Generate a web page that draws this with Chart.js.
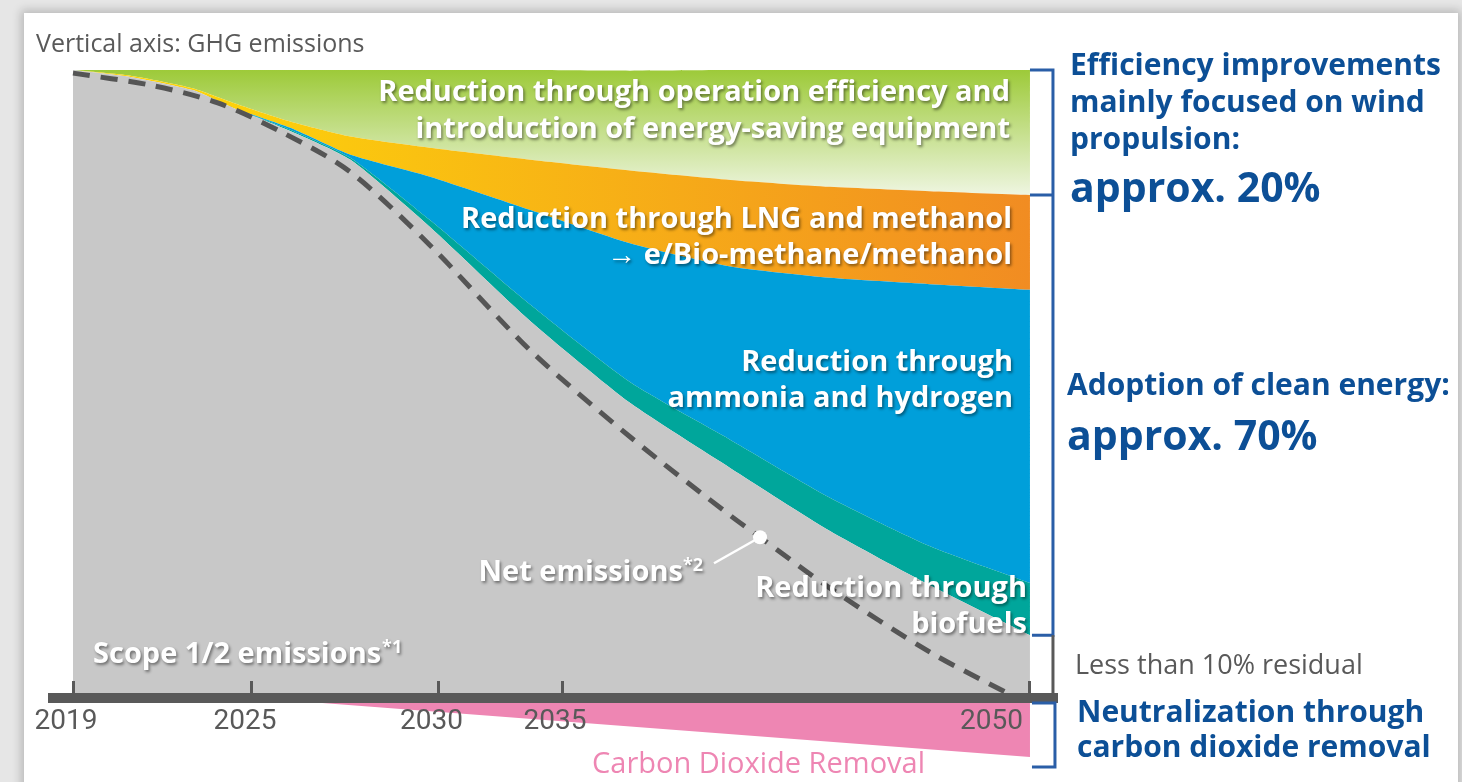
<!DOCTYPE html>
<html>
<head>
<meta charset="utf-8">
<title>GHG emissions pathway</title>
<script src="https://cdn.jsdelivr.net/npm/chart.js@4.4.1/dist/chart.umd.min.js"></script>
<style>
  html, body { margin: 0; padding: 0; }
  body { width: 1462px; height: 782px; overflow: hidden; background: #e6e6e6; position: relative; }
  .panel { position: absolute; left: 24px; top: 13px; width: 1434px; height: 820px; background: #fff; box-shadow: 0 0 9px 3px rgba(0, 0, 0, 0.2); }
  .wrap { position: absolute; left: 0; top: 0; width: 1462px; height: 782px; }
</style>
</head>
<body>
<div class="panel"></div>
<div class="wrap"><canvas id="chart"></canvas></div>
<script>
(function () {
  'use strict';

  // ---- Data: % of 2019 GHG emissions, x = position along the drawn 2019-2050 timeline ----
  var tickYears = ['2019', '2025', '2030', '2035', '2050'];
  var tickAt = [0, 18.7, 38.2, 51.1, 100];

  var timeline = [0, 6, 12.5, 16.7, 22.7, 29, 37.3, 47.8, 58.2, 68.7, 79.1, 89.5, 100];
  var scope12 = [100, 98.9, 96.8, 94.0, 90.3, 85.7, 75.0, 60.0, 47.0, 36.6, 26.6, 18.0, 10.0];
  var biofuels = [0, 0, 0, 0, 0.2, 0.3, 1.1, 2.6, 3.3, 4.5, 5.3, 6.2, 8.3];
  var ammoniaHydrogen = [0, 0, 0, 0, 0.3, 0.5, 6.9, 15.1, 22.1, 27.6, 35.0, 41.7, 46.7];
  var lngMethanol = [0, 0.2, 0.3, 0.8, 1.0, 2.9, 4.6, 8.0, 11.6, 13.8, 14.5, 14.8, 15.1];
  var efficiency = [0, 0.9, 2.9, 5.2, 8.2, 10.7, 12.4, 14.3, 15.9, 17.5, 18.6, 19.3, 19.9];

  var netTimeline = [0, 8.05, 15.05, 21.94, 28.94, 37.3, 47.75, 58.2, 68.65, 71.79, 79.1, 89.55, 97.6];
  var netEmissions = [99.5, 97.6, 94.8, 90.0, 83.8, 72.1, 55.4, 41.6, 29.1, 25.6, 17.5, 7.3, 0.8];
  var netMarker = 9;

  var cdrTimeline = [19.2, 100];
  var carbonRemoval = [0, -9.4];

  // ---- Helpers ----
  function points(xs, ys) {
    return xs.map(function (x, i) { return { x: x, y: ys[i] }; });
  }

  function area(label, values, color, fill) {
    return {
      label: label,
      data: points(timeline, values),
      stack: 'ghg',
      fill: fill,
      backgroundColor: color,
      borderWidth: 0,
      pointRadius: 0,
      tension: 0.2
    };
  }

  function greenFill(context) {
    var chart = context.chart;
    if (!chart.chartArea) return '#c8e28f';
    var y = chart.scales.y;
    var g = chart.ctx.createLinearGradient(0, y.getPixelForValue(100), 0, y.getPixelForValue(79));
    g.addColorStop(0, '#9dca39');
    g.addColorStop(1, '#f3f8ea');
    return g;
  }

  function orangeFill(context) {
    var chart = context.chart;
    if (!chart.chartArea) return '#f6b419';
    var x = chart.scales.x;
    var g = chart.ctx.createLinearGradient(x.getPixelForValue(14), 0, x.getPixelForValue(100), 0);
    g.addColorStop(0, '#fdd30b');
    g.addColorStop(1, '#f18c22');
    return g;
  }

  // ---- Text + bracket annotations ----
  var WHITE_BOLD = 'bold 29px "Open Sans"';
  var SUP = 'bold 18px "Open Sans"';

  function shadowText(ctx, text, x, y, align, font) {
    ctx.save();
    ctx.font = font || WHITE_BOLD;
    ctx.textAlign = align;
    ctx.textBaseline = 'alphabetic';
    ctx.fillStyle = '#fff';
    ctx.shadowColor = 'rgba(0, 0, 0, 0.45)';
    ctx.shadowOffsetX = 1.5;
    ctx.shadowOffsetY = 1.5;
    ctx.shadowBlur = 3;
    ctx.fillText(text, x, y);
    ctx.restore();
  }

  function plainText(ctx, text, x, y, font, color) {
    ctx.save();
    ctx.font = font;
    ctx.textAlign = 'left';
    ctx.textBaseline = 'alphabetic';
    ctx.fillStyle = color;
    ctx.fillText(text, x, y);
    ctx.restore();
  }

  var annotations = {
    id: 'annotations',
    afterDraw: function (chart) {
      var ctx = chart.ctx;
      var xs = chart.scales.x;
      var ys = chart.scales.y;
      var last = timeline.length - 1;

      // labels inside the areas
      shadowText(ctx, 'Reduction through operation efficiency and', 1010, 101, 'right');
      shadowText(ctx, 'introduction of energy-saving equipment', 1010, 138, 'right');
      shadowText(ctx, 'Reduction through LNG and methanol', 1012, 228, 'right');
      shadowText(ctx, '\u2192 e/Bio-methane/methanol', 1012, 264, 'right');
      shadowText(ctx, 'Reduction through', 1013, 371, 'right');
      shadowText(ctx, 'ammonia and hydrogen', 1013, 407, 'right');
      shadowText(ctx, 'Reduction through', 1027, 597, 'right');
      shadowText(ctx, 'biofuels', 1027, 633, 'right');

      // net emissions marker leader
      var pt = chart.getDatasetMeta(6).data[netMarker];
      ctx.save();
      ctx.strokeStyle = '#fff';
      ctx.lineWidth = 2.5;
      ctx.beginPath();
      ctx.moveTo(pt.x, pt.y);
      ctx.lineTo(pt.x - 46, pt.y + 26);
      ctx.stroke();
      ctx.restore();

      ctx.font = SUP;
      var supW = ctx.measureText('*2').width;
      shadowText(ctx, 'Net emissions', 703 - supW, 581, 'right');
      shadowText(ctx, '*2', 703 - supW, 571, 'left', SUP);

      ctx.font = WHITE_BOLD;
      var scopeW = ctx.measureText('Scope 1/2 emissions').width;
      shadowText(ctx, 'Scope 1/2 emissions', 93, 663, 'left');
      shadowText(ctx, '*1', 93 + scopeW + 1, 653, 'left', SUP);

      // axis caption and bottom caption
      plainText(ctx, 'Vertical axis: GHG emissions', 36, 52, '25px "Open Sans"', '#595959');
      plainText(ctx, 'Carbon Dioxide Removal', 592, 773, '29px "Open Sans"', '#ee86b3');

      // brackets on the right
      var xEnd = xs.getPixelForValue(100);
      var bx = xEnd + 23;
      var yTop = ys.getPixelForValue(100);
      var yEff = ys.getPixelForValue(100 - efficiency[last]);
      var yRes = ys.getPixelForValue(scope12[last]);
      var yZero = ys.getPixelForValue(0);
      var yCdr = ys.getPixelForValue(carbonRemoval[carbonRemoval.length - 1]) + 10;

      ctx.save();
      ctx.lineWidth = 3;
      ctx.strokeStyle = '#2a5ea7';
      ctx.beginPath();
      ctx.moveTo(xEnd, yTop); ctx.lineTo(bx, yTop); ctx.lineTo(bx, yRes); ctx.lineTo(xEnd + 2, yRes);
      ctx.moveTo(xEnd, yEff); ctx.lineTo(bx, yEff);
      ctx.moveTo(xEnd + 2, yZero + 5); ctx.lineTo(bx + 2, yZero + 5); ctx.lineTo(bx + 2, yCdr); ctx.lineTo(xEnd + 2, yCdr);
      ctx.stroke();
      ctx.strokeStyle = '#595959';
      ctx.beginPath();
      ctx.moveTo(bx, yRes); ctx.lineTo(bx, yZero - 5);
      ctx.stroke();
      ctx.restore();

      // right-hand commentary
      var blue = '#0c4f96';
      var bold = 'bold 30px "Open Sans"';
      var big = 'bold 41px "Open Sans"';
      plainText(ctx, 'Efficiency improvements', 1070, 75, bold, blue);
      plainText(ctx, 'mainly focused on wind', 1070, 112, bold, blue);
      plainText(ctx, 'propulsion:', 1070, 149, bold, blue);
      plainText(ctx, 'approx. 20%', 1070, 202, big, blue);
      plainText(ctx, 'Adoption of clean energy:', 1067, 395, bold, blue);
      plainText(ctx, 'approx. 70%', 1067, 450, big, blue);
      plainText(ctx, 'Less than 10% residual', 1075, 674, '27px "Open Sans"', '#595959');
      plainText(ctx, 'Neutralization through', 1077, 722, bold, blue);
      plainText(ctx, 'carbon dioxide removal', 1077, 757, bold, blue);
    }
  };

  // ---- Chart ----
  var ctx = document.getElementById('chart').getContext('2d');

  new Chart(ctx, {
    type: 'line',
    data: {
      datasets: [
        area('Scope 1/2 emissions', scope12, '#c8c8c8', 'origin'),
        area('Reduction through biofuels', biofuels, '#00a69b', '-1'),
        area('Reduction through ammonia and hydrogen', ammoniaHydrogen, '#009fda', '-1'),
        area('Reduction through LNG and methanol', lngMethanol, orangeFill, '-1'),
        area('Reduction through operation efficiency', efficiency, greenFill, '-1'),
        {
          label: 'Carbon Dioxide Removal',
          data: points(cdrTimeline, carbonRemoval),
          stack: 'cdr',
          fill: 'origin',
          backgroundColor: '#ee86b3',
          borderWidth: 0,
          pointRadius: 0
        },
        {
          label: 'Net emissions',
          data: points(netTimeline, netEmissions),
          stack: 'net',
          order: -1,
          fill: false,
          borderColor: '#555555',
          borderWidth: 5,
          borderDash: [17, 11],
          tension: 0.3,
          pointRadius: function (c) { return c.dataIndex === netMarker ? 7 : 0; },
          pointBackgroundColor: '#ffffff',
          pointBorderWidth: 0
        }
      ]
    },
    options: {
      responsive: true,
      maintainAspectRatio: false,
      animation: false,
      events: [],
      layout: { padding: { left: 53, right: 406, top: 70, bottom: 21.2 } },
      plugins: {
        legend: { display: false },
        tooltip: { enabled: false }
      },
      scales: {
        x: {
          type: 'linear',
          min: -2.09,
          max: 102.72,
          position: { y: 0 },
          afterFit: function (scale) { scale.height = 0; },
          afterBuildTicks: function (scale) {
            scale.ticks = tickAt.map(function (v) { return { value: v }; });
          },
          grid: { drawOnChartArea: false, drawTicks: true, tickLength: -22, color: '#595959', lineWidth: 3, z: 1 },
          border: { display: true, color: '#595959', width: 10, z: 1 },
          ticks: {
            z: 1,
            autoSkip: false,
            maxRotation: 0,
            padding: 29,
            labelOffset: -7,
            color: '#595959',
            font: { family: 'Roboto', size: 28 },
            callback: function (value, index) {
              // last label sits left of its tick in the original
              return index === tickYears.length - 1 ? tickYears[index] + '\u2007\u2007\u2007\u2007' : tickYears[index];
            }
          }
        },
        y: {
          display: false,
          stacked: true,
          min: -10,
          max: 100
        }
      }
    },
    plugins: [annotations]
  });
})();
</script>
</body>
</html>
